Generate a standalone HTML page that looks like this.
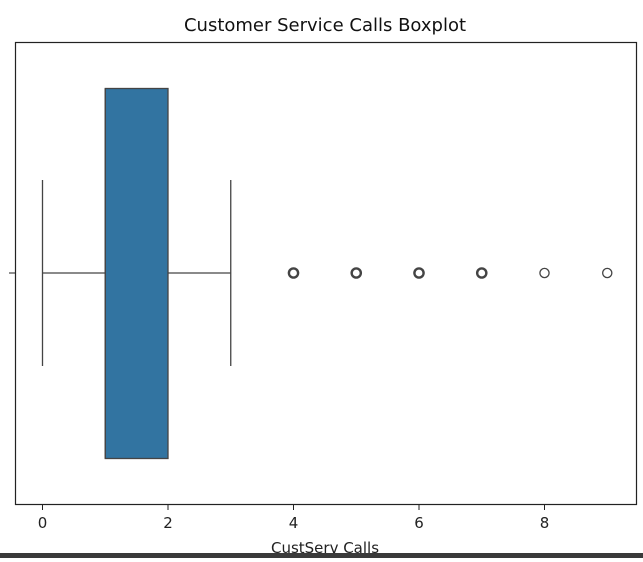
<!DOCTYPE html>
<html><head><meta charset="utf-8"><style>
body{margin:0;background:#fff;width:643px;height:558px;overflow:hidden;font-family:"DejaVu Sans","Liberation Sans",sans-serif}
</style></head><body>
<svg width="643" height="558" id="c">
<rect x="0" y="0" width="643" height="558" fill="#fff"/>
<text x="325" y="31" text-anchor="middle" font-size="18" fill="#111">Customer Service Calls Boxplot</text>
<g id="plot"></g>
<rect x="15.5" y="42.5" width="621" height="462" fill="none" stroke="#222" stroke-width="1.2"/>
<line x1="9" y1="273" x2="15" y2="273" stroke="#222"/>
<g id="xt"></g>
<text x="325" y="553" text-anchor="middle" font-size="15" fill="#222">CustServ Calls</text>
<rect x="0" y="553" width="643" height="5" fill="#3a3a3a"/>
</svg>
<script>
const ticks=[0,2,4,6,8];
const stats={min:0,q1:1,median:1,q3:2,max:3};
const outliers=[4,5,6,7,8,9];
const outlierCounts=[3,3,3,3,1,1];
const X=v=>42.5+v*62.75;
const ns="http://www.w3.org/2000/svg";
const plot=document.getElementById('plot'),xt=document.getElementById('xt');
function mk(p,tag,a){const e=document.createElementNS(ns,tag);for(const k in a)e.setAttribute(k,a[k]);p.appendChild(e);return e;}
const cy=273;
let e;
e=mk(plot,'line',{x1:X(stats.min),y1:cy,x2:X(stats.q1),y2:cy,stroke:'#444','stroke-width':1.3});


e=mk(plot,'line',{x1:X(stats.q3),y1:cy,x2:X(stats.max),y2:cy,stroke:'#444','stroke-width':1.3});


e=mk(plot,'line',{x1:X(stats.min),y1:180,x2:X(stats.min),y2:366,stroke:'#444','stroke-width':1.3});


e=mk(plot,'line',{x1:X(stats.max),y1:180,x2:X(stats.max),y2:366,stroke:'#444','stroke-width':1.3});


e=mk(plot,'rect',{x:X(stats.q1),y:88.5,width:X(stats.q3)-X(stats.q1),height:370,fill:'#3274a1',stroke:'#444','stroke-width':1.3});


e=mk(plot,'line',{x1:X(stats.median),y1:88.5,x2:X(stats.median),y2:458.5,stroke:'#444','stroke-width':1.3});


outliers.forEach((v,i)=>{
 const o=mk(plot,'circle',{cx:X(v),cy:cy,r:4.6,fill:'none',stroke:'#444','stroke-width':outlierCounts[i]>1?2.4:1.3});
 
 
});
ticks.forEach(t=>{
 const l=mk(xt,'line',{x1:X(t),y1:505,x2:X(t),y2:510,stroke:'#222'});
 
 
 const tx=mk(xt,'text',{x:X(t),y:528,'text-anchor':'middle','font-size':15,fill:'#222'});
 tx.textContent=t;
 
 
});
</script>
</body></html>
